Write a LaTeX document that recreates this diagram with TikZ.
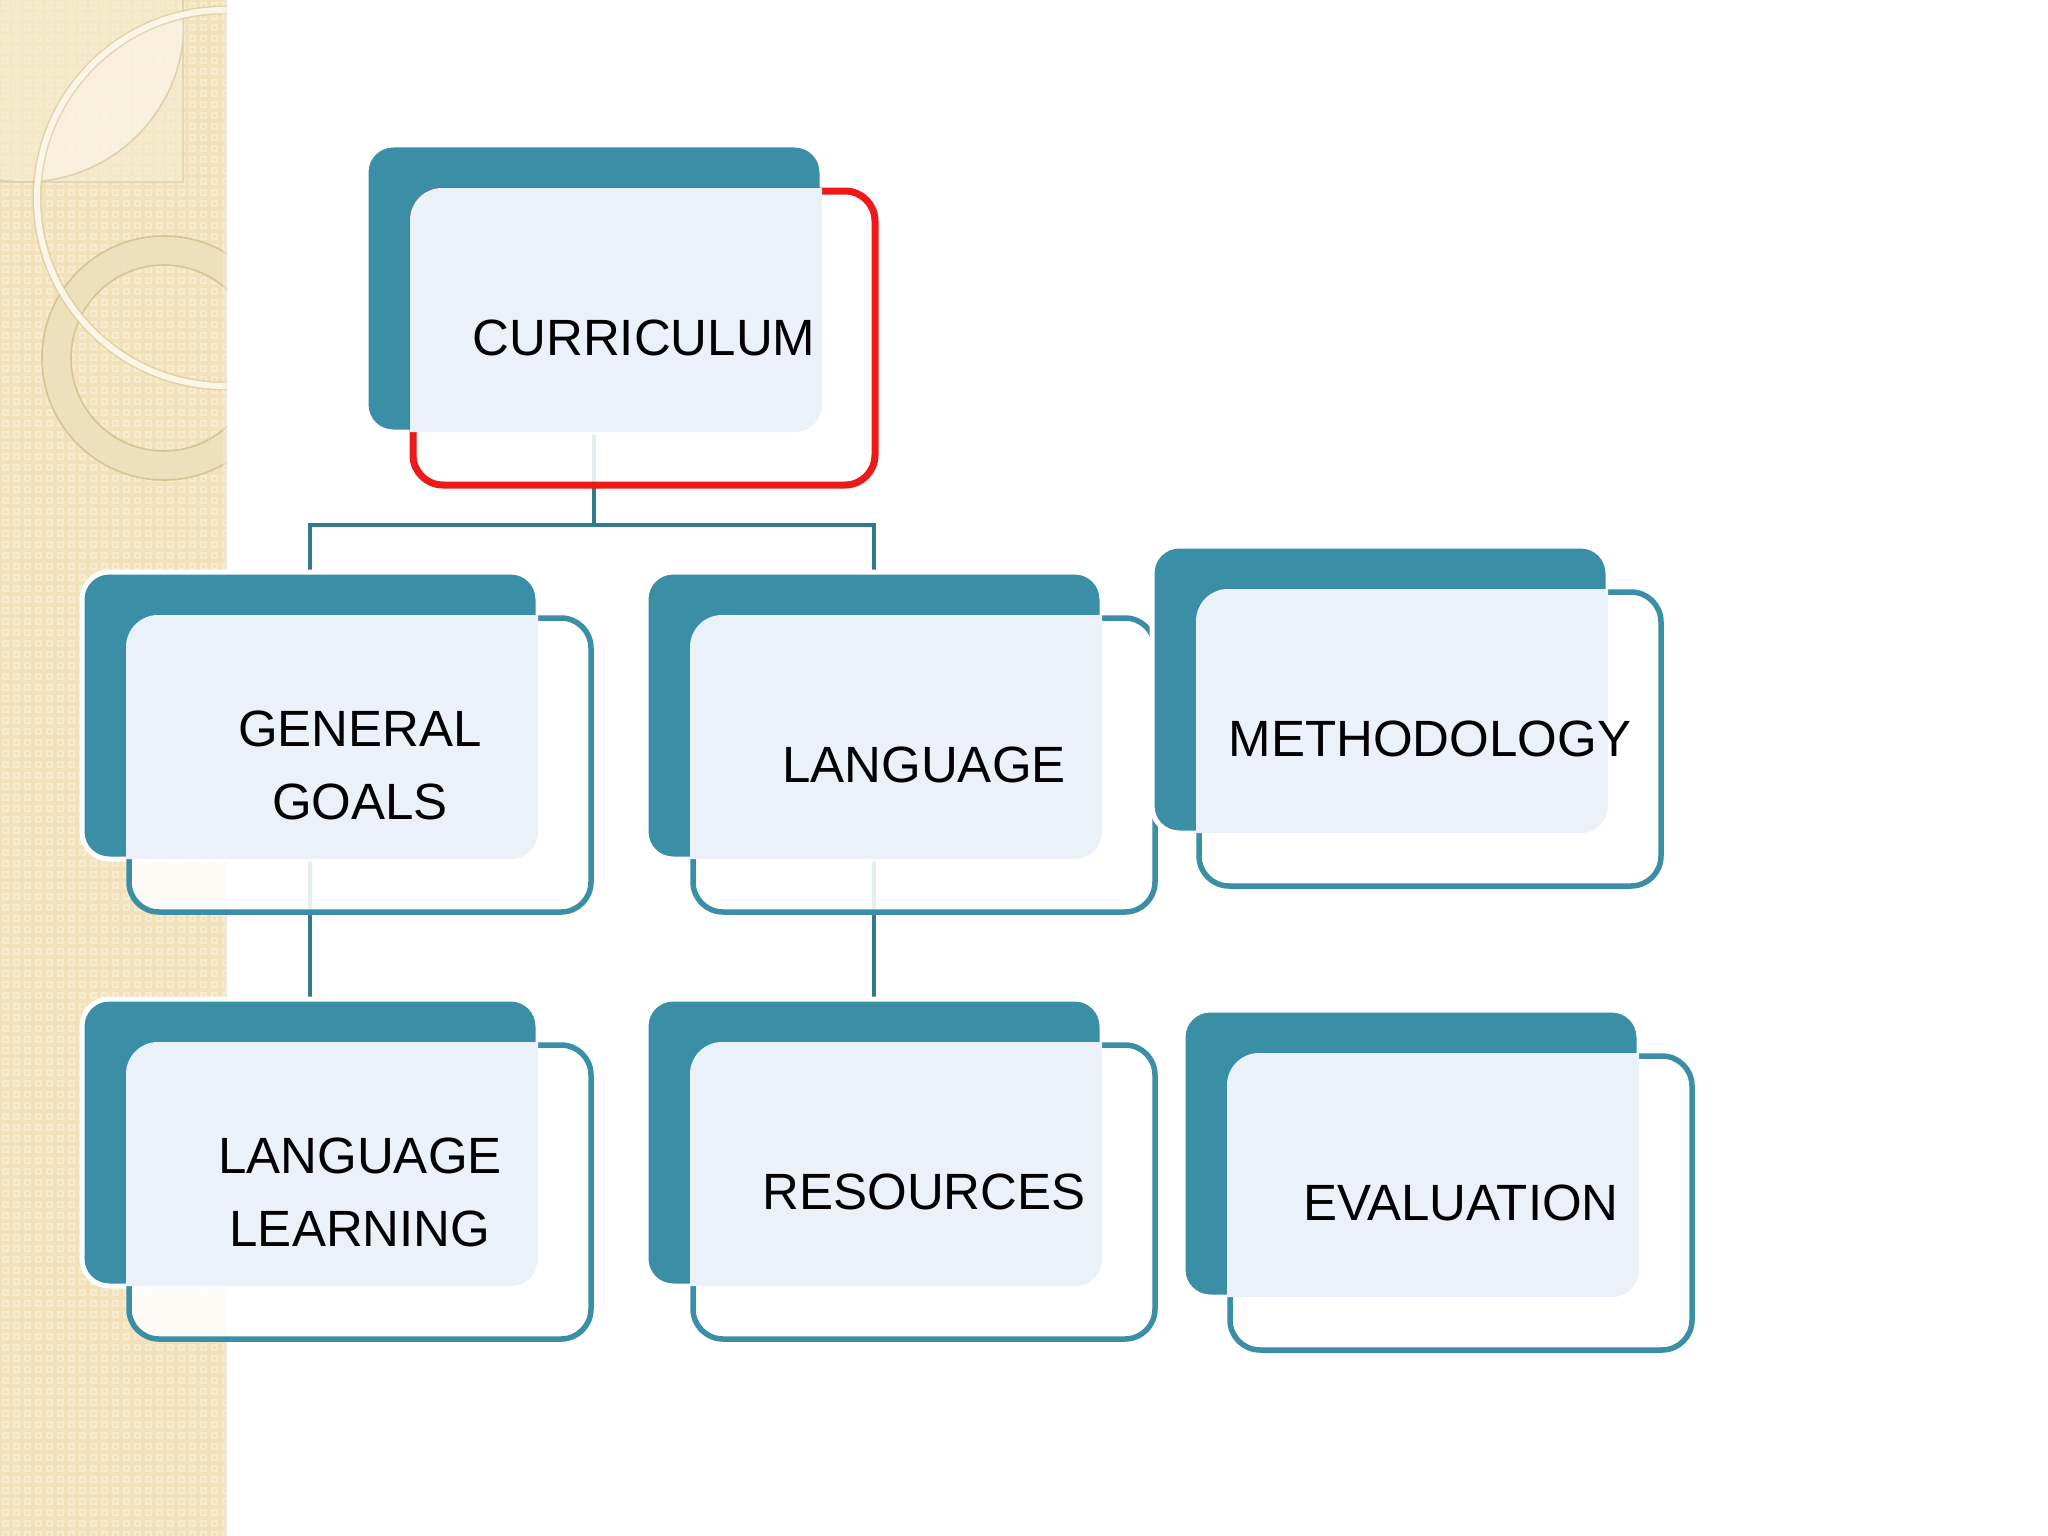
\documentclass[tikz,border=0pt]{standalone}
\usepackage{fontspec}
\setmainfont{Liberation Sans}
\definecolor{tealbox}{HTML}{3A8FA7}
\definecolor{tealline}{HTML}{31798C}
\definecolor{panelc}{HTML}{EBF1F8}
\definecolor{redline}{HTML}{EE1A1A}
\definecolor{beige}{HTML}{F2E1B9}
\definecolor{beigelt}{HTML}{F7EBD1}
\definecolor{beigedk}{HTML}{D6C396}
\definecolor{creamarc}{HTML}{FBF6E8}
\definecolor{ringc}{HTML}{EDE0BC}
\pgfdeclarelayer{deco}
\pgfdeclarelayer{links}
\pgfsetlayers{deco,links,main}
\newcommand\unitbox[6]{%
  \node[backbox] (#1B) at ({#2+228},{#3+143.5}) {};
  \node[frontbox, draw=#5, line width=#6] (#1F) at ({#2+278},{#3+193}) {};
  \begin{scope}
    \clip[rounded corners=32pt] ({#2+44},{#3+43}) rectangle ({#2+512},{#3+343});
    \fill[panel] (#2,#3) rectangle ({#2+456},{#3+287});
  \end{scope}
  \node[lbl] (#1T) at (#1F) {#4};
}
\begin{document}
\begin{tikzpicture}[x=1pt,y=-1pt,
  backbox/.style={fill=tealbox, draw=white, line width=5pt, rounded corners=27pt,
    minimum width=456pt, minimum height=287pt, inner sep=0pt, outer sep=0pt},
  frontbox/.style={fill=white, fill opacity=0.88, rounded corners=30pt,
    minimum width=462pt, minimum height=294pt, inner sep=0pt, outer sep=0pt},
  panel/.style={fill=panelc, rounded corners=27pt},
  lbl/.style={font=\fontsize{51}{73}\selectfont, align=center, text=black},
  conn/.style={draw=tealline, line width=4.5pt},
]
\useasboundingbox (0,0) rectangle (2048,1536);

% background and decorative left strip
\begin{pgfonlayer}{deco}
\fill[white] (0,0) rectangle (2048,1536);
\begin{scope}
  \clip (0,0) rectangle (227,1536);
  \fill[beige] (0,0) rectangle (227,1536);
  \foreach \i in {0,...,20} {
    \foreach \j in {0,...,139} {
      \draw[beigelt, line width=1.3pt] ({\i*11+3},{\j*11+3}) rectangle ++(5,5);
    }
  }
  % light square top-left
  \fill[beigelt, opacity=0.7] (0,0) rectangle (183,182);
  \draw[beigedk!70, line width=1.2pt] (183,0) -- (183,182) -- (0,182);
  \begin{scope}
    \clip (0,0) rectangle (183,182);
    \begin{scope}
      \clip (25,23) circle (159);
      \fill[white, opacity=0.35] (225,198) circle (188);
    \end{scope}
    \draw[beigedk!80, line width=1.5pt] (25,23) circle (159);
  \end{scope}
  % ring
  \fill[ringc, opacity=0.85, even odd rule] (164,358) circle (122) (164,358) circle (93);
  \draw[beigedk, line width=1.6pt] (164,358) circle (122);
  \draw[beigedk, line width=1.6pt] (164,358) circle (93);
  % big arc
  \draw[beigedk, opacity=0.6, line width=9pt] (225,198) circle (188);
  \draw[creamarc, line width=6pt] (225,198) circle (188);
  \fill[white!85!gray, opacity=0.5] (223,0) rectangle (227,1536);
\end{scope}
\end{pgfonlayer}

\unitbox{cur}{366}{145}{CURRICULUM}{redline}{7pt}
\unitbox{gg}{82}{572}{GENERAL\\GOALS}{tealbox}{5.5pt}
\unitbox{lang}{646}{572}{LANGUAGE}{tealbox}{5.5pt}
\unitbox{meth}{1152}{546}{METHODOLOGY}{tealbox}{5.5pt}
\unitbox{ll}{82}{999}{LANGUAGE\\LEARNING}{tealbox}{5.5pt}
\unitbox{res}{646}{999}{RESOURCES}{tealbox}{5.5pt}
\unitbox{eval}{1183}{1010}{EVALUATION}{tealbox}{5.5pt}

\coordinate (barL) at (0,525);
\begin{pgfonlayer}{links}
  \draw[conn] (curB.south) -- (curB.south |- barL) -| (ggB.north);
  \draw[conn] (curB.south |- barL) -| (langB.north);
  \draw[conn] (ggB.south) -- (llB.north);
  \draw[conn] (langB.south) -- (resB.north);
\end{pgfonlayer}
\end{tikzpicture}
\end{document}
